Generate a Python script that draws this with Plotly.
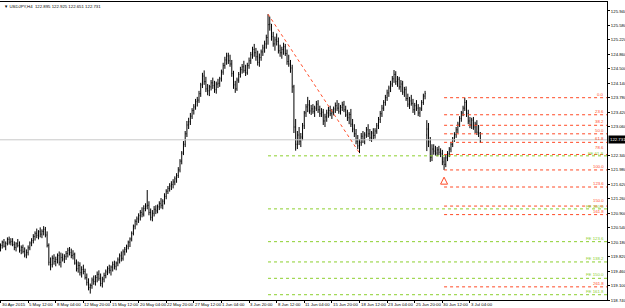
import plotly.graph_objects as go

# ---------------- data ----------------
symbol_title = "\u25bc USDJPY,H4  122.895 122.925 122.651 122.731"

open_ = [
120.05,
120.10,120.18,120.08,120.15,120.25,120.18,
120.20,120.12,120.05,120.14,120.10,119.98,
120.05,119.95,119.86,119.92,120.04,120.16,
120.22,120.32,120.40,120.35,120.44,120.38,
120.45,120.50,120.36,120.10,119.68,119.62,
119.78,119.70,119.75,119.85,119.68,119.80,
119.76,119.82,119.90,119.98,119.92,119.85,
119.88,119.66,119.52,119.60,119.42,119.50,
119.45,119.30,119.18,119.05,119.10,119.24,
119.20,119.30,119.38,119.28,119.15,119.26,
119.35,119.44,119.52,119.48,119.56,119.62,
119.58,119.66,119.74,119.84,119.78,119.94,
120.00,120.08,120.18,120.26,120.40,120.58,
120.70,120.76,120.84,120.92,120.88,121.02,
121.08,121.10,120.92,120.80,120.90,121.00,
120.96,121.06,121.14,121.10,121.20,121.32,
121.45,121.52,121.58,121.62,121.68,121.76,
121.84,121.98,122.20,122.40,122.62,122.88,
123.10,123.18,123.32,123.46,123.55,123.68,
123.72,123.88,124.10,124.32,124.18,124.00,
123.95,124.05,124.15,124.08,123.98,124.12,
124.14,124.25,124.42,124.58,124.72,124.82,
124.70,124.62,124.38,124.10,124.00,124.22,
124.36,124.48,124.55,124.46,124.40,124.58,
124.70,124.85,124.98,124.90,124.80,124.66,
124.78,124.92,125.02,125.12,125.28,125.60,
125.55,125.30,125.12,125.22,125.18,124.95,
124.90,124.98,125.05,124.88,124.68,124.62,
124.52,124.05,123.05,122.62,122.85,122.70,
122.80,123.08,123.40,123.55,123.60,123.45,
123.50,123.44,123.52,123.62,123.48,123.38,
123.42,123.20,123.30,123.40,123.46,123.38,
123.42,123.50,123.58,123.52,123.44,123.54,
123.60,123.48,123.35,123.28,123.36,123.12,
123.00,122.88,122.70,122.58,122.66,122.82,
122.74,122.85,122.98,122.88,122.78,122.90,
122.84,122.95,123.08,123.24,123.38,123.52,
123.66,123.78,123.90,124.02,124.12,124.25,
124.36,124.18,124.24,124.05,124.12,123.92,
123.98,123.76,123.62,123.70,123.64,123.48,
123.58,123.52,123.40,123.50,123.66,123.82,
122.85,123.00,122.68,122.30,122.50,122.45,
122.40,122.48,122.42,122.38,122.18,122.12,
122.28,122.38,122.50,122.62,122.74,122.86,
122.98,123.12,123.26,123.40,123.52,123.66,
123.38,123.20,123.10,123.22,123.05,123.12,
122.92,122.895,
]
high = [
120.15,
120.22,120.26,120.20,120.30,120.32,120.28,
120.28,120.20,120.18,120.26,120.20,120.10,
120.12,120.05,120.00,120.10,120.20,120.28,
120.38,120.45,120.52,120.48,120.55,120.50,
120.58,120.56,120.45,120.15,119.80,119.85,
119.88,119.82,119.90,119.95,119.92,119.90,
119.88,119.96,120.04,120.06,120.02,119.98,
119.92,119.75,119.70,119.68,119.58,119.62,
119.52,119.40,119.28,119.15,119.30,119.35,
119.36,119.45,119.48,119.40,119.32,119.42,
119.50,119.58,119.62,119.60,119.70,119.72,
119.70,119.80,119.90,119.95,120.00,120.06,
120.12,120.22,120.30,120.45,120.62,120.75,
120.82,120.90,120.98,121.05,121.10,121.15,
121.48,121.20,121.02,120.98,121.08,121.10,
121.12,121.20,121.28,121.25,121.40,121.50,
121.58,121.65,121.70,121.75,121.82,121.90,
122.05,122.25,122.45,122.70,122.95,123.20,
123.28,123.40,123.52,123.62,123.75,123.80,
123.95,124.15,124.40,124.46,124.30,124.12,
124.10,124.22,124.28,124.20,124.18,124.25,
124.30,124.48,124.65,124.80,124.90,124.90,
124.85,124.72,124.45,124.20,124.28,124.42,
124.55,124.62,124.70,124.60,124.65,124.78,
124.92,125.05,125.12,125.02,124.95,124.88,
124.98,125.10,125.20,125.35,125.86,125.80,
125.62,125.42,125.30,125.38,125.28,125.10,
125.05,125.15,125.12,124.98,124.85,124.72,
124.60,124.10,123.25,122.95,123.05,122.90,
123.15,123.45,123.62,123.80,123.72,123.60,
123.62,123.58,123.70,123.72,123.58,123.52,
123.50,123.38,123.48,123.55,123.58,123.50,
123.56,123.66,123.72,123.65,123.60,123.68,
123.70,123.58,123.48,123.42,123.50,123.25,
123.12,123.00,122.85,122.75,122.90,122.95,
122.92,123.05,123.12,123.00,122.95,123.02,
123.02,123.15,123.30,123.45,123.60,123.72,
123.85,123.98,124.08,124.20,124.32,124.47,
124.44,124.32,124.30,124.22,124.20,124.05,
124.06,123.88,123.80,123.85,123.75,123.65,
123.72,123.62,123.55,123.72,123.88,123.95,
123.22,123.15,122.80,122.62,122.62,122.58,
122.55,122.58,122.52,122.48,122.30,122.35,
122.45,122.55,122.68,122.80,122.92,123.05,
123.18,123.32,123.45,123.58,123.78,123.72,
123.48,123.30,123.28,123.30,123.18,123.22,
123.10,122.925,
]
low = [
119.95,
120.02,120.05,119.98,120.10,120.12,120.10,
120.08,119.98,119.95,120.05,119.92,119.88,
119.90,119.80,119.78,119.85,119.98,120.08,
120.15,120.22,120.28,120.25,120.30,120.28,
120.35,120.30,120.05,119.60,119.48,119.55,
119.62,119.58,119.65,119.60,119.55,119.70,
119.66,119.74,119.80,119.85,119.78,119.75,
119.62,119.45,119.42,119.35,119.30,119.38,
119.25,119.10,118.98,118.90,119.02,119.12,
119.10,119.18,119.22,119.08,119.05,119.18,
119.28,119.36,119.40,119.35,119.45,119.50,
119.48,119.58,119.65,119.70,119.72,119.85,
119.92,120.00,120.06,120.20,120.35,120.50,
120.60,120.66,120.72,120.80,120.82,120.95,
121.00,120.85,120.72,120.70,120.82,120.88,
120.90,120.98,121.02,121.00,121.12,121.25,
121.38,121.44,121.48,121.52,121.60,121.66,
121.78,121.92,122.12,122.35,122.55,122.80,
123.00,123.10,123.25,123.36,123.48,123.56,
123.65,123.80,124.02,124.10,123.92,123.84,
123.82,123.96,124.00,123.90,123.88,124.02,
124.05,124.18,124.35,124.50,124.60,124.62,
124.55,124.30,124.00,123.90,123.95,124.15,
124.28,124.38,124.40,124.32,124.35,124.50,
124.62,124.75,124.80,124.70,124.58,124.55,
124.70,124.82,124.90,125.00,125.10,125.45,
125.20,125.05,124.95,125.08,124.88,124.80,
124.75,124.85,124.82,124.60,124.55,124.40,
123.90,122.90,122.46,122.50,122.60,122.55,
122.72,123.00,123.30,123.42,123.38,123.35,
123.38,123.30,123.45,123.40,123.30,123.30,
123.10,123.05,123.18,123.28,123.32,123.25,
123.34,123.40,123.45,123.38,123.36,123.45,
123.42,123.30,123.20,123.12,123.05,122.92,
122.80,122.62,122.50,122.40,122.58,122.65,
122.62,122.78,122.80,122.70,122.68,122.75,
122.76,122.88,123.00,123.15,123.30,123.45,
123.58,123.70,123.80,123.92,124.05,124.15,
124.10,124.05,123.98,123.92,123.85,123.80,
123.70,123.55,123.50,123.58,123.40,123.35,
123.45,123.32,123.30,123.45,123.60,123.74,
122.45,122.55,122.18,122.20,122.36,122.34,
122.32,122.35,122.30,122.10,121.98,122.05,
122.20,122.30,122.42,122.55,122.68,122.78,
122.90,123.05,123.18,123.32,123.45,123.30,
123.12,123.02,123.00,122.98,122.90,122.85,
122.80,122.651,
]
close = [
120.10,
120.18,120.08,120.15,120.25,120.18,120.20,
120.12,120.05,120.14,120.10,119.98,120.05,
119.95,119.86,119.92,120.04,120.16,120.22,
120.32,120.40,120.35,120.44,120.38,120.45,
120.50,120.36,120.10,119.68,119.62,119.78,
119.70,119.75,119.85,119.68,119.80,119.76,
119.82,119.90,119.98,119.92,119.85,119.88,
119.66,119.52,119.60,119.42,119.50,119.45,
119.30,119.18,119.05,119.10,119.24,119.20,
119.30,119.38,119.28,119.15,119.26,119.35,
119.44,119.52,119.48,119.56,119.62,119.58,
119.66,119.74,119.84,119.78,119.94,120.00,
120.08,120.18,120.26,120.40,120.58,120.70,
120.76,120.84,120.92,120.88,121.02,121.08,
121.10,120.92,120.80,120.90,121.00,120.96,
121.06,121.14,121.10,121.20,121.32,121.45,
121.52,121.58,121.62,121.68,121.76,121.84,
121.98,122.20,122.40,122.62,122.88,123.10,
123.18,123.32,123.46,123.55,123.68,123.72,
123.88,124.10,124.32,124.18,124.00,123.95,
124.05,124.15,124.08,123.98,124.12,124.14,
124.25,124.42,124.58,124.72,124.82,124.70,
124.62,124.38,124.10,124.00,124.22,124.36,
124.48,124.55,124.46,124.40,124.58,124.70,
124.85,124.98,124.90,124.80,124.66,124.78,
124.92,125.02,125.12,125.28,125.60,125.62,
125.30,125.12,125.22,125.18,124.95,124.90,
124.98,125.05,124.88,124.68,124.62,124.52,
124.05,123.05,122.62,122.85,122.70,122.80,
123.08,123.40,123.55,123.60,123.45,123.50,
123.44,123.52,123.62,123.48,123.38,123.42,
123.20,123.30,123.40,123.46,123.38,123.42,
123.50,123.58,123.52,123.44,123.54,123.60,
123.48,123.35,123.28,123.36,123.12,123.00,
122.88,122.70,122.58,122.66,122.82,122.74,
122.85,122.98,122.88,122.78,122.90,122.84,
122.95,123.08,123.24,123.38,123.52,123.66,
123.78,123.90,124.02,124.12,124.25,124.36,
124.18,124.24,124.05,124.12,123.92,123.98,
123.76,123.62,123.70,123.64,123.48,123.58,
123.52,123.40,123.50,123.66,123.82,123.88,
123.00,122.68,122.30,122.50,122.45,122.40,
122.48,122.42,122.38,122.18,122.12,122.28,
122.38,122.50,122.62,122.74,122.86,122.98,
123.12,123.26,123.40,123.52,123.66,123.38,
123.20,123.10,123.22,123.05,123.12,122.92,
122.895,122.731,
]
bars = list(range(len(close)))

# time axis labels (every 16 H4 bars)
time_labels = ["30 Apr 2015", "5 May 12:00", "8 May 04:00", "12 May 20:00", "15 May 12:00",
               "20 May 04:00", "22 May 20:00", "27 May 12:00", "1 Jun 04:00", "3 Jun 20:00",
               "8 Jun 12:00", "11 Jun 04:00", "15 Jun 20:00", "18 Jun 12:00", "23 Jun 04:00",
               "25 Jun 20:00", "30 Jun 12:00", "3 Jul 04:00"]
time_label_bars = [16 * k for k in range(len(time_labels))]

# price axis labels
price_ticks = [125.940, 125.580, 125.220, 124.860, 124.500, 124.140, 123.780, 123.420, 123.060,
               122.340, 121.980, 121.620, 121.260, 120.900, 120.540, 120.180, 119.820, 119.460,
               119.100, 118.740]
bid = 122.731

# Fibonacci retracement (red): anchored low -> high
fibo_low_bar, fibo_low = 257, 121.98
fibo_high = 123.78
fibo_levels = [0.0, 23.6, 38.2, 50.0, 61.8, 78.6, 100.0, 123.6, 150.0, 161.8, 261.8]
fibo_label_shift = [0, 0, 0, 0, 0, 3, 0, 0, 2, 0, 0]

# Fibonacci expansion (green): A (top), B (low), C
fe_a_bar, fe_a = 155, 125.86
fe_b_bar, fe_b = 208, 122.40
fe_c = 124.47
fe_levels = [61.8, 100.0, 123.6, 138.2, 150.0, 161.8]
fe_label_shift = [-1, -1, 0, 0, 0, 0]

# arrow object under the low
arrow_bar, arrow_price = 257, 121.80

# ---------------- figure ----------------
RED = "#ff4a26"
GREEN = "#8ccf2e"
FONT = "Liberation Sans"
FS = 4.3
X0, X1 = -0.3, 351.4

fig = go.Figure()
notes = []

# bid line
fig.add_trace(go.Scatter(x=[X0, X1], y=[bid, bid], mode="lines",
                         line=dict(color="#c8c8c8", width=1), hoverinfo="skip"))

# FE levels
for lv, sh in zip(fe_levels, fe_label_shift):
    p = fe_c - lv / 100.0 * (fe_a - fe_b)
    fig.add_trace(go.Scatter(x=[fe_a_bar, X1], y=[p, p], mode="lines",
                             line=dict(color=GREEN, width=1, dash="dot"), hoverinfo="skip"))
    notes.append(dict(text=f"FE {lv:.1f}", x=X1, y=p, xref="x", yref="y",
                      xanchor="right", yanchor="bottom", showarrow=False,
                      xshift=-2, yshift=sh, borderpad=0,
                      font=dict(color=GREEN, size=FS, family=FONT)))

# retracement levels
for lv, sh in zip(fibo_levels, fibo_label_shift):
    p = fibo_high - lv / 100.0 * (fibo_high - fibo_low)
    fig.add_trace(go.Scatter(x=[fibo_low_bar, X1], y=[p, p], mode="lines",
                             line=dict(color=RED, width=1, dash="dot"), hoverinfo="skip"))
    notes.append(dict(text=f"{lv:.1f}", x=X1, y=p, xref="x", yref="y",
                      xanchor="right", yanchor="bottom", showarrow=False,
                      xshift=-2, yshift=sh, borderpad=0,
                      font=dict(color=RED, size=FS, family=FONT)))

# FE base line A->B
fig.add_trace(go.Scatter(x=[fe_a_bar, fe_b_bar], y=[fe_a, fe_b], mode="lines",
                         line=dict(color=RED, width=1, dash="dot"), hoverinfo="skip"))

# price bars
fig.add_trace(go.Ohlc(x=bars, open=open_, high=high, low=low, close=close,
                      increasing=dict(line=dict(color="black", width=1)),
                      decreasing=dict(line=dict(color="black", width=1)),
                      tickwidth=0.3))

# arrow
fig.add_trace(go.Scatter(x=[arrow_bar], y=[arrow_price], mode="markers",
                         marker=dict(symbol="arrow-up-open", size=7,
                                     color=RED, line=dict(color=RED, width=1)),
                         hoverinfo="skip"))

# time labels, left-aligned at their ticks (MT4 style)
for tb, tl in zip(time_label_bars, time_labels):
    notes.append(dict(text=tl, x=tb, y=0, xref="x", yref="paper",
                      xanchor="left", yanchor="top", showarrow=False,
                      xshift=0, yshift=-1, borderpad=0,
                      font=dict(size=FS, family=FONT, color="black")))

notes += [
    dict(text=symbol_title, xref="paper", yref="paper", x=0.003, y=1.0,
         xanchor="left", yanchor="top", showarrow=False,
         font=dict(size=FS, family=FONT, color="black")),
    dict(text=f"{bid:.3f}", xref="paper", yref="y", x=1.0, y=bid,
         xanchor="left", yanchor="middle", showarrow=False, xshift=1,
         bgcolor="black", borderpad=1,
         font=dict(size=FS, family=FONT, color="white")),
]

fig.update_layout(
    width=625, height=308,
    margin=dict(l=0, r=18, t=2, b=8, autoexpand=False),
    paper_bgcolor="white", plot_bgcolor="white",
    showlegend=False,
    font=dict(family=FONT, size=FS, color="black"),
    xaxis=dict(range=[X0, X1], rangeslider=dict(visible=False), automargin=False,
               tickmode="array", tickvals=time_label_bars, showticklabels=False,
               ticks="outside", ticklen=2, tickcolor="black",
               showgrid=False, zeroline=False,
               showline=True, linecolor="black", linewidth=1, mirror=True),
    yaxis=dict(range=[118.74, 126.164], side="right", automargin=False,
               tickmode="array", tickvals=price_ticks,
               ticktext=[f"{v:.3f}" for v in price_ticks],
               ticks="outside", ticklen=2, tickcolor="black",
               tickfont=dict(size=FS, family=FONT, color="black"),
               showgrid=False, zeroline=False,
               showline=True, linecolor="black", linewidth=1, mirror=True),
    annotations=notes,
)

fig.write_html("out.html")
